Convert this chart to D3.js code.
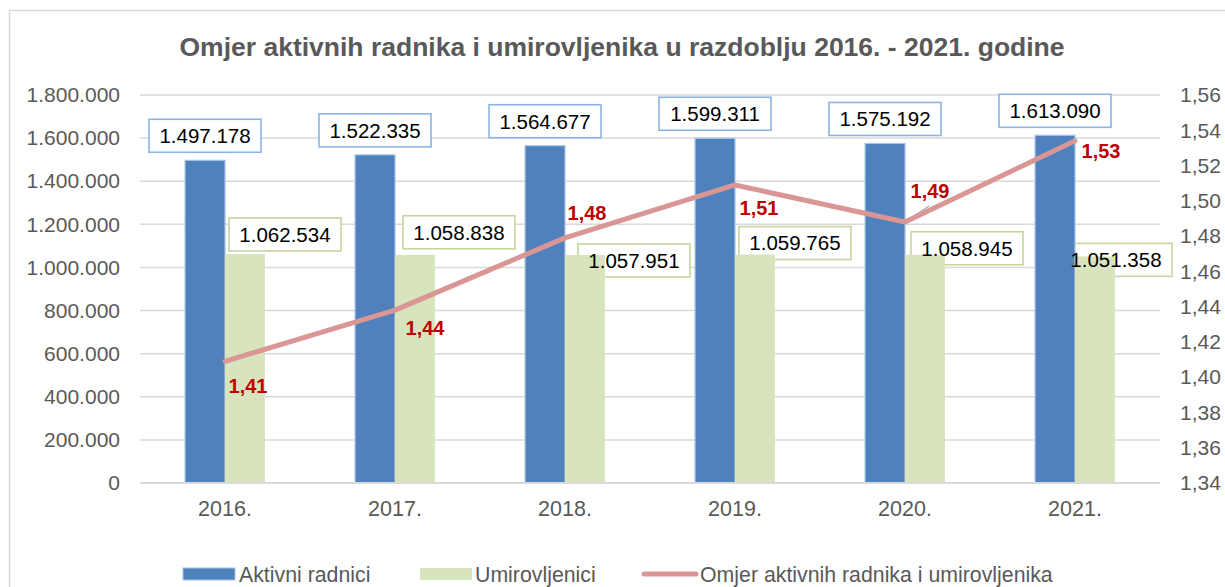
<!DOCTYPE html>
<html>
<head>
<meta charset="utf-8">
<script src="https://cdn.jsdelivr.net/npm/d3@7"></script>
<style>
    body { margin: 0; background: #fff; }
    text { font-family: "Liberation Sans", Arial, sans-serif; }
</style>
</head>
<body>
<script>
// chart data
const years = ['2016.', '2017.', '2018.', '2019.', '2020.', '2021.'];
const activeWorkers = [1497178, 1522335, 1564677, 1599311, 1575192, 1613090];
const pensioners = [1062534, 1058838, 1057951, 1059765, 1058945, 1051358];
const ratio = [1.409, 1.438, 1.479, 1.509, 1.488, 1.534];
const leftTicks = [0, 200000, 400000, 600000, 800000, 1000000, 1200000, 1400000, 1600000, 1800000];
const rightTicks = [1.34, 1.36, 1.38, 1.40, 1.42, 1.44, 1.46, 1.48, 1.50, 1.52, 1.54, 1.56];
const seriesNames = ['Aktivni radnici', 'Umirovljenici', 'Omjer aktivnih radnika i umirovljenika'];
const title = 'Omjer aktivnih radnika i umirovljenika u razdoblju 2016. - 2021. godine';

// manual label placement (as in the original, labels were dragged around)
const pensionerLabelNudge = [[40, -36], [44, -39], [49, -11], [40, -28], [42, -23], [21, -13]];
const ratioLabelNudge = [[23, 24], [30, 18], [22, -25], [24, 23], [25, -31], [26, 10]];

drawChart();

function drawChart()
{
    const width = 1225;
    const height = 587;
    const plot = {left: 140, right: 1160, top: 95, bottom: 483};

    const svg = d3.select('body')
        .append('svg')
        .attr('width', width)
        .attr('height', height);

    // chart frame
    svg.append('rect')
        .attr('x', 9.5).attr('y', 10.5)
        .attr('width', 1240).attr('height', 600)
        .attr('fill', '#fff')
        .attr('stroke', '#d9d9d9')
        .attr('stroke-width', 1.5);

    svg.append('text')
        .attr('x', 622).attr('y', 56)
        .attr('text-anchor', 'middle')
        .attr('font-size', 26.5)
        .attr('font-weight', 'bold')
        .attr('fill', '#595959')
        .text(title);

    const x = d3.scaleBand()
        .domain(years)
        .range([plot.left, plot.right])
        .paddingInner(0.53)
        .paddingOuter(0.265);

    const xSub = d3.scaleBand()
        .domain(['a', 'p'])
        .range([0, x.bandwidth()]);

    const y = d3.scaleLinear()
        .domain([0, 1800000])
        .range([plot.bottom, plot.top]);

    const yRight = d3.scaleLinear()
        .domain([1.34, 1.56])
        .range([plot.bottom, plot.top]);

    const numFmt = d3.formatLocale({decimal: ',', thousands: '.', grouping: [3], currency: ['', '']});
    const fmtInt = numFmt.format(',d');
    const fmtRatio = numFmt.format('.2f');

    // gridlines
    svg.append('g')
        .selectAll('line')
        .data(leftTicks)
        .join('line')
        .attr('x1', plot.left).attr('x2', plot.right)
        .attr('y1', d => y(d)).attr('y2', d => y(d))
        .attr('stroke', '#d9d9d9')
        .attr('stroke-width', 1.5);

    // left axis
    const leftAxis = svg.append('g')
        .attr('transform', `translate(${plot.left - 20},0)`)
        .call(d3.axisLeft(y).tickValues(leftTicks).tickFormat(fmtInt).tickSize(0).tickPadding(0));
    leftAxis.select('.domain').remove();
    leftAxis.selectAll('text').attr('font-size', 21).attr('fill', '#595959').attr('font-family', null);

    // right axis
    const rightAxis = svg.append('g')
        .attr('transform', `translate(${plot.right + 20},0)`)
        .call(d3.axisRight(yRight).tickValues(rightTicks).tickFormat(fmtRatio).tickSize(0).tickPadding(0));
    rightAxis.select('.domain').remove();
    rightAxis.selectAll('text').attr('font-size', 21).attr('fill', '#595959').attr('font-family', null);

    // bottom axis
    const bottomAxis = svg.append('g')
        .attr('transform', `translate(0,${plot.bottom})`)
        .call(d3.axisBottom(x).tickSize(0).tickPadding(18));
    bottomAxis.select('.domain').remove();
    bottomAxis.selectAll('text').attr('font-size', 21.5).attr('fill', '#595959').attr('font-family', null);

    // value label boxes: frames go under the bars, texts on top of everything
    const boxW = 112;
    const boxH = 33;
    const boxLayer = svg.append('g');
    const labels = [];

    years.forEach((yr, i) =>
    {
        const blueCx = x(yr) + xSub('a') + xSub.bandwidth() / 2;
        labels.push({cx: blueCx, top: y(activeWorkers[i]) - 8 - boxH, text: fmtInt(activeWorkers[i]), stroke: '#8db4e2'});

        const greenCx = x(yr) + xSub('p') + xSub.bandwidth() / 2;
        const [dx, dy] = pensionerLabelNudge[i];
        labels.push({cx: greenCx + dx, top: y(pensioners[i]) + dy, text: fmtInt(pensioners[i]), stroke: '#c3d69b'});
    });

    boxLayer.selectAll('rect')
        .data(labels)
        .join('rect')
        .attr('x', d => d.cx - boxW / 2).attr('y', d => d.top)
        .attr('width', boxW).attr('height', boxH)
        .attr('fill', '#fff')
        .attr('stroke', d => d.stroke)
        .attr('stroke-width', 1.6);

    // bars
    const groups = svg.append('g')
        .selectAll('g')
        .data(years)
        .join('g')
        .attr('transform', d => `translate(${x(d)},0)`);

    groups.append('rect')
        .attr('x', xSub('a'))
        .attr('y', (d, i) => y(activeWorkers[i]))
        .attr('width', xSub.bandwidth())
        .attr('height', (d, i) => y(0) - y(activeWorkers[i]))
        .attr('fill', '#4f81bd')
        .attr('stroke', '#a9c4e6')
        .attr('stroke-width', 1.2);

    groups.append('rect')
        .attr('x', xSub('p'))
        .attr('y', (d, i) => y(pensioners[i]))
        .attr('width', xSub.bandwidth())
        .attr('height', (d, i) => y(0) - y(pensioners[i]))
        .attr('fill', '#d7e4bd');

    // axis baseline
    svg.append('line')
        .attr('x1', plot.left).attr('x2', plot.right)
        .attr('y1', y(0)).attr('y2', y(0))
        .attr('stroke', '#d9d9d9')
        .attr('stroke-width', 2);

    // leader line for 2020 ratio label
    const cx = (i) => x(years[i]) + x.bandwidth() / 2;
    svg.append('line')
        .attr('x1', cx(4)).attr('y1', yRight(ratio[4]))
        .attr('x2', cx(4) + 24).attr('y2', yRight(ratio[4]) - 16)
        .attr('stroke', '#a6a6a6')
        .attr('stroke-width', 1.2);

    // ratio line
    const line = d3.line()
        .x((d, i) => cx(i))
        .y(d => yRight(d));

    svg.append('path')
        .datum(ratio)
        .attr('d', line)
        .attr('fill', 'none')
        .attr('stroke', '#d99694')
        .attr('stroke-width', 5)
        .attr('stroke-linejoin', 'round')
        .attr('stroke-linecap', 'round');

    svg.append('g')
        .selectAll('text')
        .data(labels)
        .join('text')
        .attr('x', d => d.cx).attr('y', d => d.top + boxH / 2)
        .attr('dy', '0.36em')
        .attr('text-anchor', 'middle')
        .attr('font-size', 20.5)
        .attr('fill', '#000')
        .text(d => d.text);

    // ratio labels
    svg.append('g')
        .selectAll('text')
        .data(ratio)
        .join('text')
        .attr('x', (d, i) => cx(i) + ratioLabelNudge[i][0])
        .attr('y', (d, i) => yRight(d) + ratioLabelNudge[i][1])
        .attr('dy', '0.36em')
        .attr('text-anchor', 'middle')
        .attr('font-size', 20)
        .attr('font-weight', 'bold')
        .attr('fill', '#c00000')
        .text(d => fmtRatio(d));

    // legend
    const legend = svg.append('g').attr('transform', 'translate(0,574)');
    const legendItems = [
        {x: 183, textX: 239, kind: 'bar', color: '#4f81bd', stroke: '#a9c4e6'},
        {x: 420, textX: 475, kind: 'bar', color: '#d7e4bd', stroke: 'none'},
        {x: 642, textX: 700, kind: 'line', color: '#d99694'}
    ];

    legendItems.forEach((item, i) =>
    {
        if (item.kind === 'bar')
        {
            legend.append('rect')
                .attr('x', item.x).attr('y', -6)
                .attr('width', 52).attr('height', 12)
                .attr('fill', item.color)
                .attr('stroke', item.stroke);
        }
        else
        {
            legend.append('line')
                .attr('x1', item.x + 2).attr('x2', item.x + 54)
                .attr('y1', 0).attr('y2', 0)
                .attr('stroke', item.color)
                .attr('stroke-width', 5)
                .attr('stroke-linecap', 'round');
        }
        legend.append('text')
            .attr('x', item.textX).attr('y', 0)
            .attr('dy', '0.36em')
            .attr('font-size', 21.3)
            .attr('fill', '#595959')
            .text(seriesNames[i]);
    });
}
</script>
</body>
</html>
